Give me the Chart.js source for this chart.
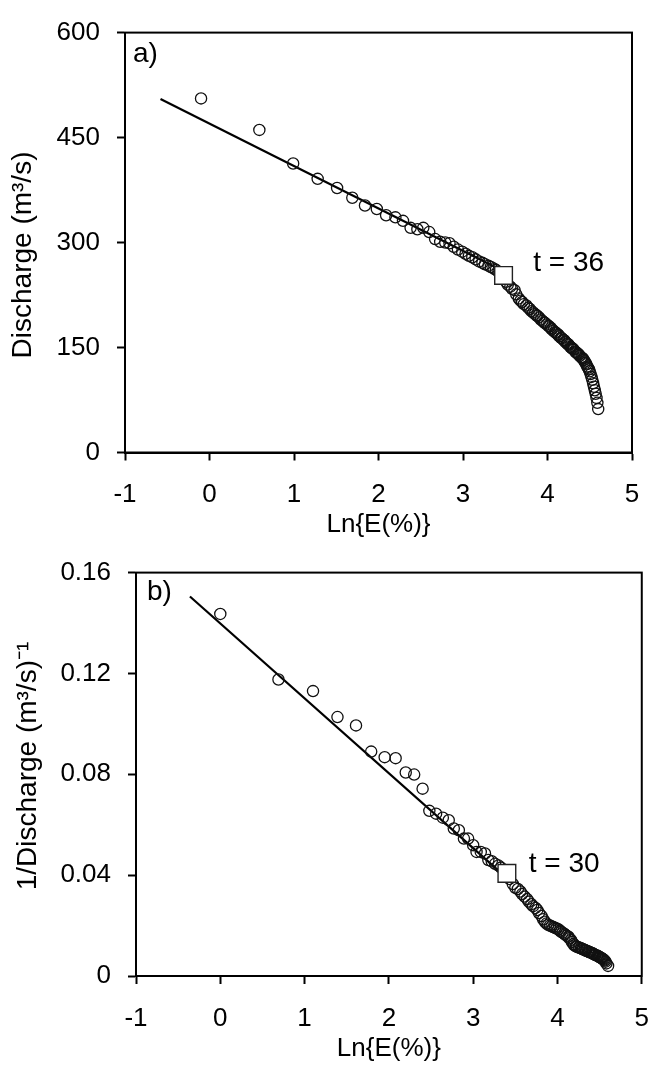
<!DOCTYPE html>
<html>
<head>
<meta charset="utf-8">
<title>Discharge vs Ln{E(%)}</title>
<script src="https://cdn.jsdelivr.net/npm/chart.js@4/dist/chart.umd.min.js"></script>
<style>
  html, body { margin: 0; padding: 0; background: #fff; }
  canvas { display: block; }
</style>
</head>
<body>
<canvas id="chartA" width="668" height="540"></canvas>
<canvas id="chartB" width="668" height="526"></canvas>
<script>
// Panel a) discharge against Ln{E(%)}
const lnEA = [-0.10, 0.59, 0.99, 1.28, 1.51, 1.69, 1.84, 1.98, 2.09, 2.20,
  2.29, 2.38, 2.46, 2.53, 2.60, 2.67, 2.73, 2.79, 2.84, 2.89,
  2.94, 2.99, 3.03, 3.07, 3.11, 3.15, 3.19, 3.23, 3.26, 3.30,
  3.33, 3.36, 3.39, 3.42, 3.45, 3.48, 3.51, 3.53, 3.56, 3.58,
  3.61, 3.63, 3.66, 3.68, 3.70, 3.72, 3.75, 3.77, 3.79, 3.81,
  3.83, 3.85, 3.87, 3.88, 3.90, 3.92, 3.94, 3.96, 3.97, 3.99,
  4.01, 4.02, 4.04, 4.05, 4.07, 4.09, 4.10, 4.12, 4.13, 4.14,
  4.16, 4.17, 4.19, 4.20, 4.21, 4.23, 4.24, 4.25, 4.27, 4.28,
  4.29, 4.30, 4.31, 4.33, 4.34, 4.35, 4.36, 4.37, 4.38, 4.40,
  4.41, 4.42, 4.43, 4.44, 4.45, 4.46, 4.47, 4.48, 4.49, 4.50,
  4.51, 4.52, 4.53, 4.54, 4.55, 4.56, 4.57, 4.58, 4.59, 4.60];
const dischargeA = [506, 461, 413, 391, 378, 364, 353, 348, 339, 336,
  331, 321, 319, 321, 315, 305, 301, 300, 299, 294,
  290, 287, 284, 281, 279, 276, 273, 271, 269, 267,
  265, 263, 261, 258, 256, 253, 244, 240, 237, 234,
  232, 226, 220, 217, 215, 212, 210, 207, 205, 202,
  200, 198, 196, 195, 193, 190, 188, 186, 185, 183,
  181, 180, 178, 176, 174, 172, 171, 169, 168, 166,
  164, 163, 161, 160, 158, 156, 155, 154, 151, 150,
  149, 148, 147, 144, 143, 142, 141, 140, 138, 136,
  135, 134, 132, 130, 128, 126, 123, 121, 119, 116,
  112, 108, 104, 99, 94, 89, 84, 78, 71, 62];
const fitXA = [-0.58, 3.48];
const fitYA = [505, 259];
const markXA = [3.48];
const markYA = [253];

// Panel b) 1/discharge against Ln{E(%)}
const lnEB = [0.00, 0.69, 1.10, 1.39, 1.61, 1.79, 1.95, 2.08, 2.20, 2.30,
  2.40, 2.48, 2.56, 2.64, 2.71, 2.77, 2.83, 2.89, 2.94, 3.00,
  3.04, 3.09, 3.14, 3.18, 3.22, 3.26, 3.30, 3.33, 3.37, 3.40,
  3.43, 3.47, 3.50, 3.53, 3.56, 3.58, 3.61, 3.64, 3.66, 3.69,
  3.71, 3.74, 3.76, 3.78, 3.81, 3.83, 3.85, 3.87, 3.89, 3.91,
  3.93, 3.95, 3.97, 3.99, 4.01, 4.03, 4.04, 4.06, 4.08, 4.09,
  4.11, 4.13, 4.14, 4.16, 4.17, 4.19, 4.20, 4.22, 4.23, 4.25,
  4.26, 4.28, 4.29, 4.30, 4.32, 4.33, 4.34, 4.36, 4.37, 4.38,
  4.39, 4.41, 4.42, 4.43, 4.44, 4.45, 4.47, 4.48, 4.49, 4.50,
  4.51, 4.52, 4.53, 4.54, 4.55, 4.56, 4.57, 4.58, 4.60];
const invDischargeB = [0.1436, 0.1176, 0.1130, 0.1027, 0.0994, 0.0890, 0.0868, 0.0864, 0.0807, 0.0799,
  0.0743, 0.0655, 0.0644, 0.0628, 0.0618, 0.0585, 0.0578, 0.0545, 0.0545, 0.0519,
  0.0492, 0.0492, 0.0486, 0.0460, 0.0455, 0.0445, 0.0438, 0.0430, 0.0420, 0.0407,
  0.0385, 0.0365, 0.0350, 0.0345, 0.0335, 0.0325, 0.0315, 0.0305, 0.0295, 0.0285,
  0.0277, 0.0270, 0.0262, 0.0250, 0.0238, 0.0225, 0.0215, 0.0208, 0.0203, 0.0200,
  0.0197, 0.0194, 0.0191, 0.0188, 0.0185, 0.0180, 0.0176, 0.0172, 0.0168, 0.0164,
  0.0160, 0.0156, 0.0150, 0.0143, 0.0135, 0.0127, 0.0122, 0.0118, 0.0116, 0.0114,
  0.0112, 0.0110, 0.0108, 0.0106, 0.0104, 0.0102, 0.0100, 0.0098, 0.0096, 0.0095,
  0.0093, 0.0091, 0.0089, 0.0087, 0.0085, 0.0083, 0.0081, 0.0079, 0.0077, 0.0075,
  0.0073, 0.0071, 0.0069, 0.0067, 0.0064, 0.0061, 0.0057, 0.0050, 0.0040];
const fitXB = [-0.36, 3.40];
const fitYB = [0.1505, 0.0388];
const markXB = [3.40];
const markYB = [0.0407];

const xTicks = [-1, 0, 1, 2, 3, 4, 5];

const FONT = "'Liberation Sans', Arial, sans-serif";
Chart.defaults.font.family = FONT;
Chart.defaults.color = "#000";

function toPoints(xs, ys) {
    return xs.map((x, i) => ({ x: x, y: ys[i] }));
}

// box around the plot area, the y title, the panel letter and the "t = .." note
const framePlugin = {
    id: "frame",
    afterDraw(chart, args, opts) {
        const { ctx, chartArea: a, scales } = chart;
        ctx.save();
        ctx.strokeStyle = "#000";
        ctx.lineWidth = 2;
        ctx.strokeRect(a.left, a.top, a.right - a.left, a.bottom - a.top);
        ctx.fillStyle = "#000";
        ctx.font = "28px " + FONT;
        ctx.textBaseline = "middle";
        ctx.textAlign = "left";
        ctx.fillText(opts.letter, a.left + opts.letterDx, a.top + opts.letterDy);
        ctx.textAlign = "center";
        ctx.fillText(opts.note, scales.x.getPixelForValue(opts.noteX), scales.y.getPixelForValue(opts.noteY));
        // y axis title (Excel puts it a little off the axis centre)
        ctx.translate(opts.yTitleX, opts.yTitleY);
        ctx.rotate(-Math.PI / 2);
        ctx.fillText(opts.yTitle, 0, 0);
        ctx.restore();
    }
};

function makeChart(id, cfg) {
    const ctx = document.getElementById(id).getContext("2d");
    return new Chart(ctx, {
        type: "scatter",
        data: {
            datasets: [
                {
                    label: "t",
                    data: toPoints(cfg.markX, cfg.markY),
                    pointStyle: "rect",
                    pointRadius: 12.5,
                    backgroundColor: "#fff",
                    borderColor: "#222",
                    borderWidth: 1.4
                },
                {
                    label: "observed",
                    data: toPoints(cfg.x, cfg.y),
                    pointStyle: "circle",
                    pointRadius: 5.6,
                    backgroundColor: "rgba(0,0,0,0)",
                    borderColor: "#111",
                    borderWidth: 1.3
                },
                {
                    label: "fit",
                    data: toPoints(cfg.fitX, cfg.fitY),
                    showLine: true,
                    pointRadius: 0,
                    borderColor: "#000",
                    borderWidth: 2.2
                }
            ]
        },
        options: {
            responsive: false,
            animation: false,
            layout: { padding: cfg.padding },
            plugins: {
                legend: { display: false },
                tooltip: { enabled: false },
                frame: cfg.frame
            },
            scales: {
                x: {
                    type: "linear",
                    min: -1,
                    max: 5,
                    afterBuildTicks: (axis) => { axis.ticks = xTicks.map(v => ({ value: v })); },
                    afterFit: (axis) => { axis.height = cfg.xAxisHeight; },
                    border: { display: true, color: "#000", width: 2 },
                    grid: { drawOnChartArea: false, drawTicks: true, tickLength: 8, tickWidth: 2, tickColor: "#000" },
                    ticks: { font: { size: 26 }, padding: 19, maxRotation: 0 },
                    title: { display: true, text: "Ln{E(%)}", font: { size: 26 }, padding: { top: 0, bottom: cfg.xTitlePad } }
                },
                y: {
                    type: "linear",
                    min: cfg.yMin,
                    max: cfg.yMax,
                    ticks: { stepSize: cfg.yStep, font: { size: 26 }, padding: 17 },
                    afterFit: (axis) => { axis.width = cfg.yAxisWidth; },
                    border: { display: true, color: "#000", width: 2 },
                    grid: { drawOnChartArea: false, drawTicks: true, tickLength: 8, tickWidth: 2, tickColor: "#000" },
                    title: { display: false }
                }
            }
        },
        plugins: [framePlugin]
    });
}

makeChart("chartA", {
    x: lnEA, y: dischargeA,
    fitX: fitXA, fitY: fitYA,
    markX: markXA, markY: markYA,
    yMin: 0, yMax: 600, yStep: 150,
    padding: { top: 25, right: 36, left: 0, bottom: 0 },
    yAxisWidth: 125, xAxisHeight: 87.5,
    xTitlePad: 0,
    frame: { letter: "a)", letterDx: 8, letterDy: 22, note: "t = 36", noteX: 4.25, noteY: 270,
             yTitle: "Discharge (m³/s)", yTitleX: 23, yTitleY: 255 }
});

makeChart("chartB", {
    x: lnEB, y: invDischargeB,
    fitX: fitXB, fitY: fitYB,
    markX: markXB, markY: markYB,
    yMin: 0, yMax: 0.16, yStep: 0.04,
    padding: { top: 31.7, right: 11, left: 0, bottom: 0 },
    yAxisWidth: 136, xAxisHeight: 90,
    xTitlePad: 2,
    frame: { letter: "b)", letterDx: 11, letterDy: 20, note: "t = 30", noteX: 4.08, noteY: 0.0444,
             yTitle: "1/Discharge (m³/s)⁻¹", yTitleX: 28, yTitleY: 226 }
});
</script>
</body>
</html>
